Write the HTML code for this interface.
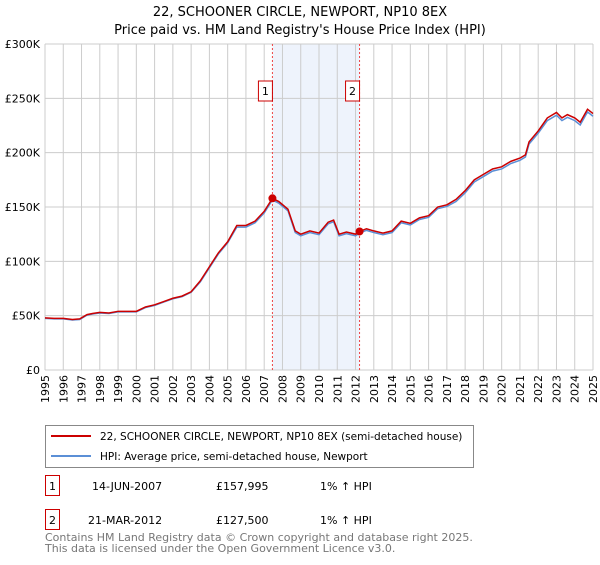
<!DOCTYPE html>
<html><head><meta charset="utf-8"><style>
body{margin:0;background:#fff;font-family:"Liberation Sans","DejaVu Sans",sans-serif;}
</style></head><body>
<svg width="600" height="560" xmlns="http://www.w3.org/2000/svg" font-family="DejaVu Sans, Liberation Sans, sans-serif">
<text x="300" y="16" text-anchor="middle" font-size="13" fill="#000">22, SCHOONER CIRCLE, NEWPORT, NP10 8EX</text>
<text x="300" y="34" text-anchor="middle" font-size="13" fill="#000">Price paid vs. HM Land Registry's House Price Index (HPI)</text>
<g id="plot"></g>
<g>
<rect x="45.5" y="425.5" width="428" height="42" fill="#fff" stroke="#888"/>
<line x1="51" y1="436" x2="91" y2="436" stroke="#cc0000" stroke-width="2"/>
<text x="100" y="440" font-size="10.5">22, SCHOONER CIRCLE, NEWPORT, NP10 8EX (semi-detached house)</text>
<line x1="51" y1="456" x2="91" y2="456" stroke="#5b8fd6" stroke-width="2"/>
<text x="100" y="460" font-size="10.5">HPI: Average price, semi-detached house, Newport</text>
</g>
<g font-size="11">
<rect x="45.5" y="475.5" width="14" height="20" fill="#fff" stroke="#cc0000"/>
<text x="52.5" y="490" text-anchor="middle">1</text>
<text x="92" y="490">14-JUN-2007</text>
<text x="216" y="490">£157,995</text>
<text x="320" y="490">1% ↑ HPI</text>
<rect x="45.5" y="509.5" width="14" height="20" fill="#fff" stroke="#cc0000"/>
<text x="52.5" y="524" text-anchor="middle">2</text>
<text x="88" y="524">21-MAR-2012</text>
<text x="216" y="524">£127,500</text>
<text x="320" y="524">1% ↑ HPI</text>
</g>
<text x="45" y="541" font-size="11" fill="#777">Contains HM Land Registry data © Crown copyright and database right 2025.</text>
<text x="45" y="552" font-size="11" fill="#777">This data is licensed under the Open Government Licence v3.0.</text>
</svg>
<script>
const years = [1995,1996,1997,1998,1999,2000,2001,2002,2003,2004,2005,2006,2007,2008,2009,2010,2011,2012,2013,2014,2015,2016,2017,2018,2019,2020,2021,2022,2023,2024,2025];
const yTicks = [0,50000,100000,150000,200000,250000,300000];
const yTickLabels = ["£0","£50K","£100K","£150K","£200K","£250K","£300K"];
const dates = [1995,1995.5,1996,1996.5,1996.9,1997.3,1997.6,1998,1998.5,1999,1999.5,2000,2000.5,2001,2001.5,2002,2002.5,2003,2003.5,2004,2004.5,2005,2005.5,2006,2006.5,2007,2007.45,2007.8,2008.3,2008.7,2009,2009.5,2010,2010.5,2010.8,2011.1,2011.5,2012,2012.22,2012.6,2013,2013.5,2014,2014.5,2015,2015.5,2016,2016.5,2017,2017.5,2018,2018.5,2019,2019.5,2020,2020.5,2021,2021.3,2021.5,2022,2022.5,2023,2023.3,2023.6,2024,2024.3,2024.7,2025];
const priceValues = [48000,47500,47500,46500,47000,51000,52000,53000,52500,54000,54000,54000,58000,60000,63000,66000,68000,72000,82000,95000,108000,118000,133000,133000,137000,146000,158000,155000,148000,128000,125000,128000,126000,136000,138000,125000,127000,125000,127500,130000,128000,126000,128000,137000,135000,140000,142000,150000,152000,157000,165000,175000,180000,185000,187000,192000,195000,198000,210000,220000,232000,237000,232000,235000,232000,228000,240000,236000];
const hpiValues = [47500,47000,47000,46000,46500,50500,51500,52500,52000,53500,53500,53500,57500,59500,62500,65500,67500,71500,81000,94000,107000,117000,131500,131500,135500,144500,156500,153500,146500,126500,123500,126500,124500,134500,136500,123500,125500,123500,126000,128500,126500,124500,126500,135500,133500,138500,140500,148500,150500,155000,163000,173000,178000,183000,185000,190000,193000,196000,208000,218000,229500,234500,229500,232500,229500,225500,237500,233500];
const saleDates = [2007.45,2012.22];
const salePrices = [157995,127500];
const saleLabels = ["1","2"];

const X0=45,X1=593,Y0=370,Y1=44;
const xs=t=>X0+(t-1995)/(2025-1995)*(X1-X0);
const ys=v=>Y0-(v/300000)*(Y0-Y1);
const NS="http://www.w3.org/2000/svg";
const plot=document.getElementById('plot');
function mk(tag,attrs){const e=document.createElementNS(NS,tag);for(const k in attrs)e.setAttribute(k,attrs[k]);plot.appendChild(e);return e;}

const shade=mk('rect',{x:xs(saleDates[0]),y:Y1,width:xs(saleDates[1])-xs(saleDates[0]),height:Y0-Y1,fill:'#eef3fc'});



years.forEach(y=>{
  const g=mk('line',{x1:xs(y),x2:xs(y),y1:Y1,y2:Y0,stroke:'#cccccc','stroke-width':1});
  
  
  const t=mk('text',{x:0,y:0,'font-size':11,'text-anchor':'end',transform:`translate(${xs(y)+4},${Y0+5}) rotate(-90)`});
  t.textContent=y;
  
  
});
yTicks.forEach((v,i)=>{
  const g=mk('line',{x1:X0,x2:X1,y1:ys(v),y2:ys(v),stroke:'#cccccc','stroke-width':1});
  
  
  const t=mk('text',{x:X0-5,y:ys(v)+4,'font-size':11,'text-anchor':'end'});
  t.textContent=yTickLabels[i];
  
  
});

saleDates.forEach((d,i)=>{
  const l=mk('line',{x1:xs(d),x2:xs(d),y1:Y1,y2:Y0,stroke:'#ee4444','stroke-width':1,'stroke-dasharray':'2,2'});
  
  
  const r=mk('rect',{x:xs(d)-14,y:81,width:14,height:20,fill:'#fff',stroke:'#cc0000'});
  
  
  const t=mk('text',{x:xs(d)-7,y:95,'font-size':11,'text-anchor':'middle'});
  t.textContent=saleLabels[i];
  
  
});

const hp=mk('polyline',{points:dates.map((d,i)=>xs(d)+','+ys(hpiValues[i])).join(' '),fill:'none',stroke:'#5b8fd6','stroke-width':1.5});


const pp=mk('polyline',{points:dates.map((d,i)=>xs(d)+','+ys(priceValues[i])).join(' '),fill:'none',stroke:'#cc0000','stroke-width':1.5});


saleDates.forEach((d,i)=>{
  const c=mk('circle',{cx:xs(d),cy:ys(salePrices[i]),r:4,fill:'#cc0000'});
  
  
});
</script>
</body></html>
